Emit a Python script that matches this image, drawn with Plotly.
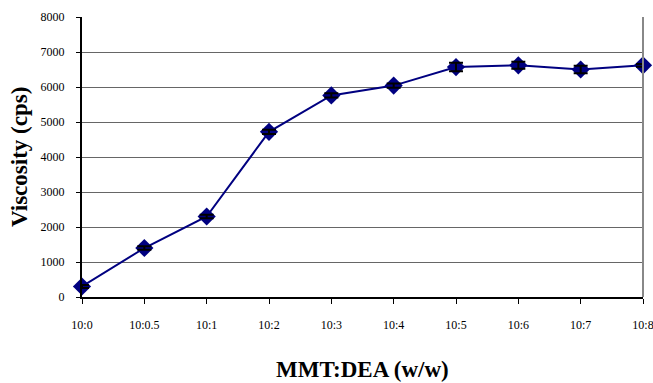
import plotly.graph_objects as go

categories = ["10:0", "10:0.5", "10:1", "10:2", "10:3", "10:4", "10:5", "10:6", "10:7", "10:8"]
viscosity = [300, 1400, 2300, 4720, 5760, 6040, 6570, 6620, 6500, 6620]
errors = [40, 50, 50, 60, 60, 60, 120, 100, 110, 40]
y_ticks = [0, 1000, 2000, 3000, 4000, 5000, 6000, 7000, 8000]
x_title = "<b>MMT:DEA (w/w)</b>"
y_title = "<b>Viscosity (cps)</b>"

xpos = list(range(len(categories)))

fig = go.Figure()
fig.add_trace(go.Scatter(
    x=xpos, y=viscosity,
    mode="lines+markers",
    line=dict(color="#000080", width=2),
    marker=dict(symbol="diamond", size=14, color="#000080"),
    cliponaxis=False,
    showlegend=False,
))
# error bars drawn on top of the markers
fig.add_trace(go.Scatter(
    x=xpos, y=viscosity,
    mode="markers",
    marker=dict(size=0.1, color="rgba(0,0,0,0)"),
    error_y=dict(type="data", array=errors, visible=True, color="black", thickness=2, width=7),
    cliponaxis=False,
    showlegend=False,
    hoverinfo="skip",
))

serif = "Liberation Serif"
W, H = 653, 383
ml, mr, mt, mb = 82, 10, 17, 86
fig.update_layout(
    width=W, height=H,
    margin=dict(l=ml, r=mr, t=mt, b=mb),
    plot_bgcolor="white", paper_bgcolor="white",
    font=dict(family=serif, color="black"),
    xaxis=dict(
        range=[0, len(categories) - 1],
        tickmode="array", tickvals=xpos, ticktext=categories,
        showgrid=False, zeroline=False,
        showline=True, linecolor="black", linewidth=2,
        ticks="outside", ticklen=5, tickcolor="black", tickwidth=1,
        ticklabelstandoff=11,
        ticklabeloverflow="allow",
        automargin=False,
        tickfont=dict(size=12, family=serif),
    ),
    yaxis=dict(
        range=[0, 8000],
        tickmode="array", tickvals=y_ticks,
        showgrid=True, gridcolor="#666666", gridwidth=1,
        zeroline=False,
        showline=True, linecolor="black", linewidth=2,
        ticks="outside", ticklen=4, tickcolor="black", tickwidth=1,
        ticklabelstandoff=9,
        automargin=False,
        tickfont=dict(size=12, family=serif),
    ),
    annotations=[
        dict(text=x_title, xref="paper", yref="paper", x=0.5, y=-(369 - (H - mb)) / (H - mt - mb),
             xanchor="center", yanchor="middle", showarrow=False,
             font=dict(size=23, family=serif, color="black")),
        dict(text=y_title, xref="paper", yref="paper", x=-(ml - 19) / (W - ml - mr), y=0.5,
             xanchor="center", yanchor="middle", textangle=-90, showarrow=False,
             font=dict(size=23, family=serif, color="black")),
    ],
    shapes=[dict(type="line", xref="paper", yref="paper", x0=1, x1=1, y0=0, y1=1,
                 line=dict(color="#888888", width=2))],
)

fig.write_html("out.html")
